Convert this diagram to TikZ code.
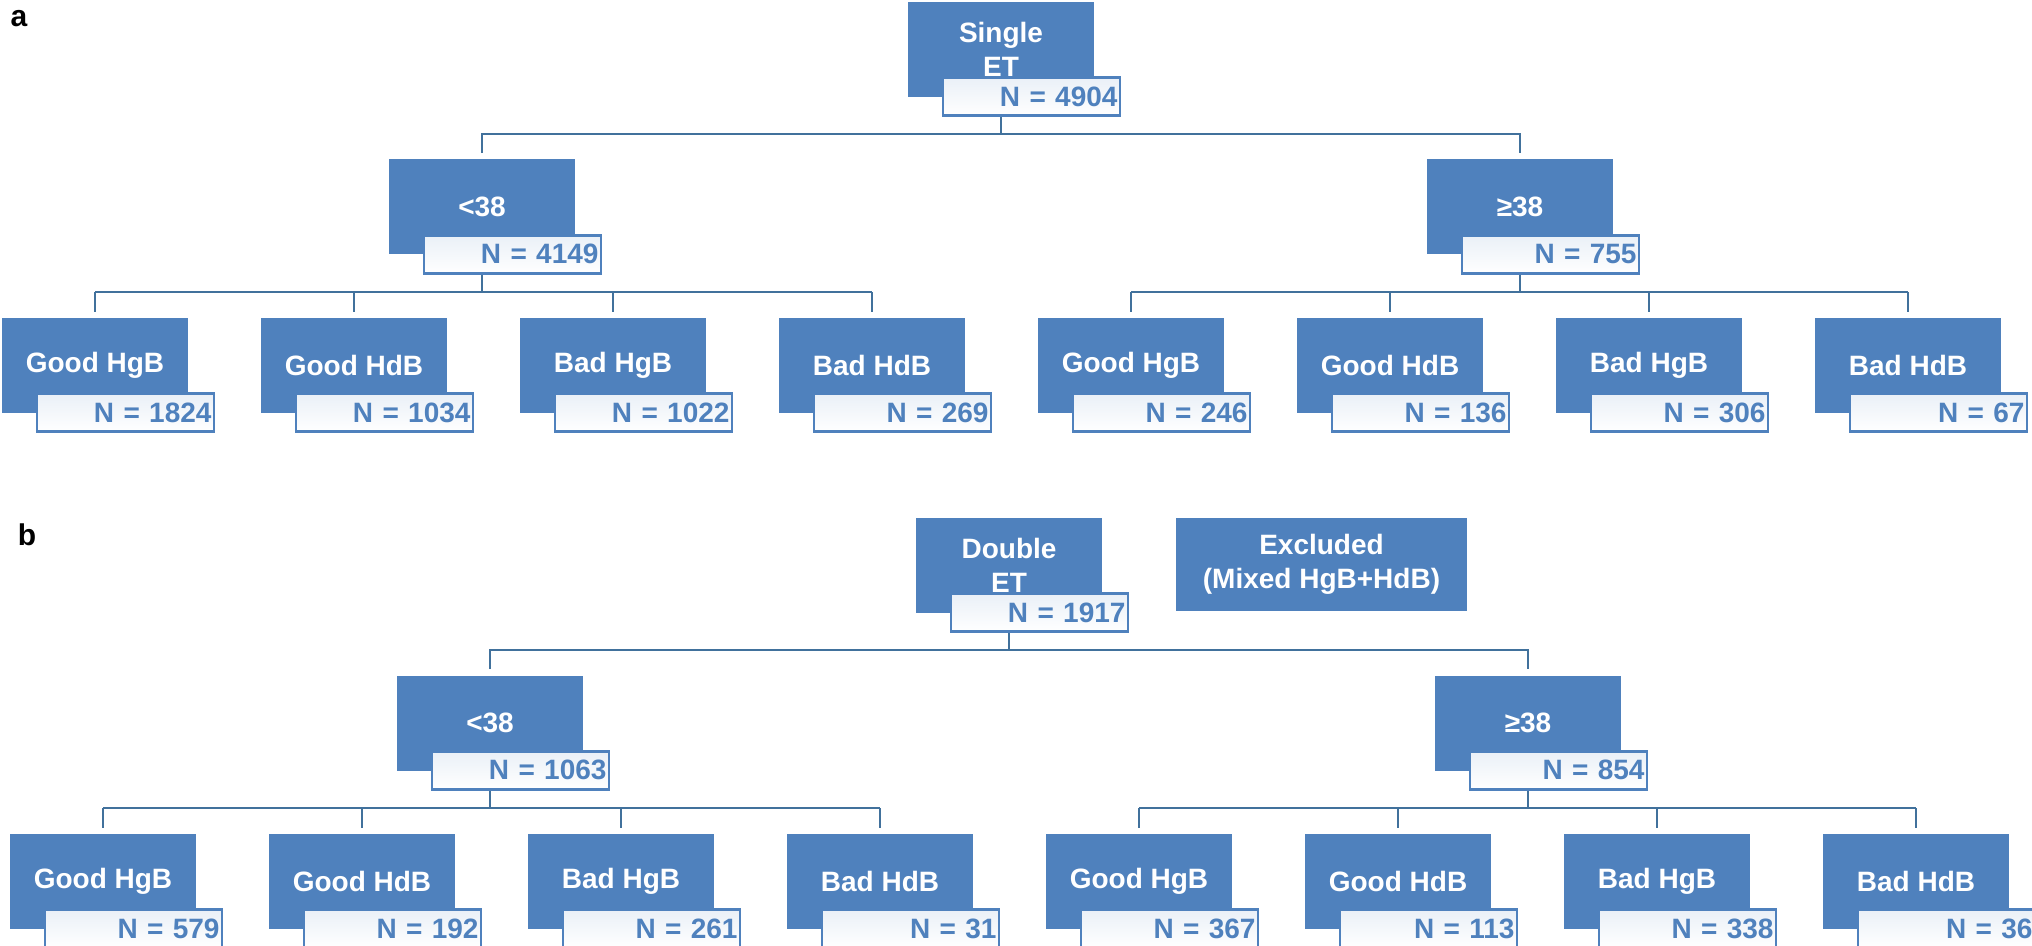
\documentclass[tikz,border=0pt]{standalone}
\usepackage{fontspec}
\setmainfont{Liberation Sans}
\usetikzlibrary{positioning}
\definecolor{boxblue}{HTML}{4F81BD}
\definecolor{edgeblue}{HTML}{41719C}
\tikzset{
  blk/.style={fill=boxblue, minimum width=93pt, minimum height=47.5pt, inner sep=0pt,
    text=white, font=\bfseries\fontsize{14}{17}\selectfont, align=center},
  nbox/.style={draw=boxblue, line width=1.4pt, top color=boxblue!12, bottom color=white,
    minimum width=88.5pt, minimum height=19pt, inner sep=0pt, anchor=north west,
    text=boxblue, font=\bfseries\fontsize{14}{17}\selectfont, align=right, text width=86pt},
  link/.style={draw=edgeblue, line width=1.4pt},
  panel/.style={font=\bfseries\fontsize{15}{18}\selectfont}
}
\begin{document}
\begin{tikzpicture}[x=0.5pt,y=-0.5pt]
  \useasboundingbox (0,0) rectangle (2032,946);
  \def\kinds{{"Good HgB","Good HdB","Bad HgB","Bad HdB"}}
  \foreach \p/\dx/\dy/\top/\ntop/\nlo/\nhi/\leafs in {
      a/0/0/{Single\\ET}/4904/4149/755/{1824,1034,1022,269,246,136,306,67},
      b/8/516/{Double\\ET}/1917/1063/854/{579,192,261,31,367,113,338,36}} {
    \begin{scope}[shift={(\dx,\dy)}]
      \node[panel] (\p-lab) at (19,19) {\p};
      \coordinate (\p-b1) at (0,134);
      \coordinate (\p-b2) at (0,292);
      % root
      \node[blk] (\p-top) at (1001,49.5) {\top};
      \node[nbox] (\p-topn) at ([xshift=17pt,yshift=10.5pt]\p-top.south west) {N = \ntop};
      % second level
      \node[blk] (\p-lo) at (482,207) {<38};
      \node[nbox] (\p-lon) at ([xshift=17pt,yshift=10.5pt]\p-lo.south west) {N = \nlo};
      \node[blk] (\p-hi) at (1520,207) {≥38};
      \node[nbox] (\p-hin) at ([xshift=17pt,yshift=10.5pt]\p-hi.south west) {N = \nhi};
      \draw[link] (\p-topn.south -| \p-top) -- (\p-top |- \p-b1);
      \draw[link] ([yshift=3pt]\p-lo.north) -- (\p-lo |- \p-b1) -- (\p-hi |- \p-b1) -- ([yshift=3pt]\p-hi.north);
      % leaves
      \foreach \n [count=\i from 0] in \leafs {
        \pgfmathsetmacro{\kind}{\kinds[mod(\i,4)]}
        \node[blk] (\p-\i) at (95+259*\i,365.5) {\kind};
        \node[nbox] (\p-\i n) at ([xshift=17pt,yshift=10.5pt]\p-\i.south west) {N = \n};
        \draw[link] ([yshift=3pt]\p-\i.north) -- (\p-\i |- \p-b2);
      }
      \draw[link] (\p-lon.south -| \p-lo) -- (\p-lo |- \p-b2);
      \draw[link] (\p-hin.south -| \p-hi) -- (\p-hi |- \p-b2);
      \draw[link] (\p-0 |- \p-b2) -- (\p-3 |- \p-b2);
      \draw[link] (\p-4 |- \p-b2) -- (\p-7 |- \p-b2);
    \end{scope}
  }
  \node[blk, minimum width=145.5pt, minimum height=46.5pt] (b-excl) at (1321.5,564.5) {Excluded\\(Mixed HgB+HdB)};
\end{tikzpicture}
\end{document}
